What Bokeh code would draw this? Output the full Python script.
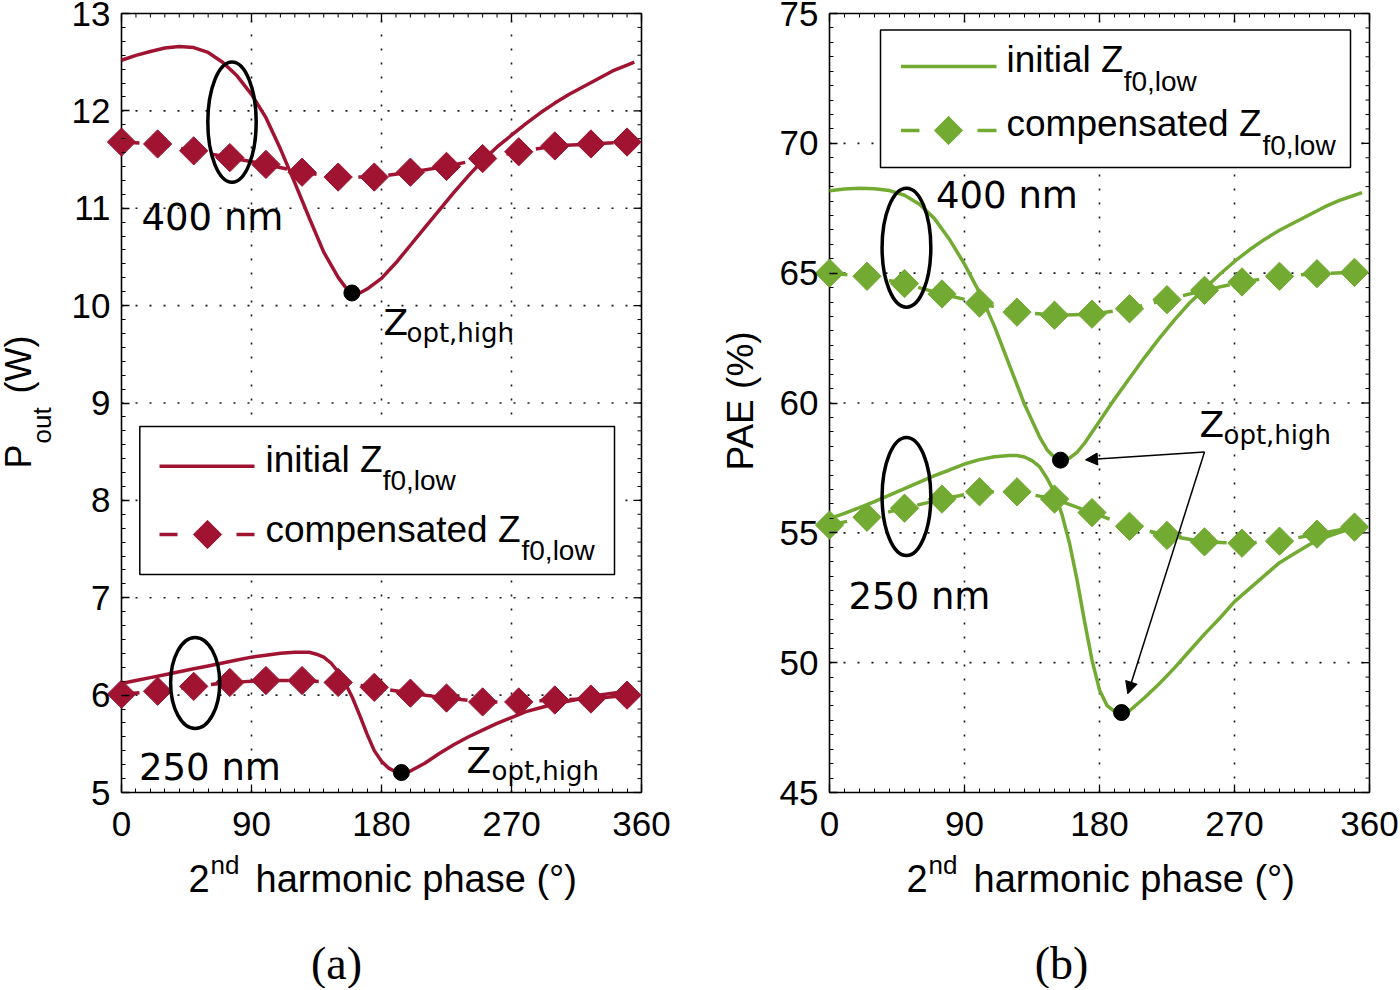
import math
from bokeh.plotting import figure
from bokeh.layouts import row
from bokeh.models import FixedTicker, LinearAxis, Label, Arrow, NormalHead, Range1d
from bokeh.embed import file_html
from bokeh.resources import INLINE

# ---------------- data ----------------
phase_comp = [0, 25, 50, 75, 100, 125, 150, 175, 200, 225, 250, 275, 300, 325, 350]

# (a) Pout (W), 400 nm
phase_a400 = [0, 10, 20, 30, 40, 50, 60, 70, 80, 90, 100, 110, 120, 130, 140, 150,
              155, 160, 165, 170, 180, 190, 200, 210, 220, 230, 240, 250, 260, 270,
              280, 290, 300, 310, 320, 330, 340, 350, 355]
pout_init_400 = [12.52, 12.57, 12.61, 12.645, 12.66, 12.65, 12.60, 12.50, 12.36, 12.17,
                 11.93, 11.61, 11.26, 10.90, 10.55, 10.29, 10.19, 10.13, 10.13, 10.17,
                 10.28, 10.44, 10.62, 10.80, 10.98, 11.16, 11.33, 11.49, 11.63, 11.75,
                 11.87, 11.98, 12.08, 12.17, 12.25, 12.33, 12.41, 12.47, 12.50]
pout_comp_400 = [11.68, 11.66, 11.59, 11.52, 11.45, 11.37, 11.32, 11.32, 11.37, 11.43,
                 11.51, 11.58, 11.64, 11.66, 11.68]

# (a) Pout (W), 250 nm
phase_a250 = [0, 10, 20, 30, 40, 50, 60, 70, 80, 90, 100, 110, 120, 130,
              135, 140, 145, 150, 155, 160, 165, 170, 175, 180, 185, 190, 195, 200,
              210, 220, 230, 240, 250, 260, 270, 280, 290, 300, 310, 320, 330, 340, 350, 355]
pout_init_250 = [6.12, 6.15, 6.18, 6.21, 6.24, 6.27, 6.30, 6.33, 6.36, 6.39, 6.41, 6.43, 6.44, 6.44,
                 6.42, 6.39, 6.33, 6.24, 6.12, 5.97, 5.79, 5.60, 5.43, 5.32, 5.25, 5.21, 5.20, 5.22,
                 5.30, 5.40, 5.49, 5.57, 5.64, 5.71, 5.77, 5.83, 5.87, 5.91, 5.94, 5.97, 6.00, 6.02,
                 6.04, 6.05]
pout_comp_250 = [6.01, 6.04, 6.09, 6.13, 6.15, 6.15, 6.13, 6.08, 6.02, 5.97, 5.93, 5.93,
                 5.95, 5.96, 6.00]

# (b) PAE (%), 400 nm
phase_b400 = [0, 10, 20, 30, 40, 50, 60, 70, 80, 90, 100, 110, 120, 130, 140,
              145, 150, 155, 160, 165, 170,
              180, 190, 200, 210, 220, 230, 240, 250, 260, 270, 280, 290, 300, 310,
              320, 330, 340, 350, 355]
pae_init_400 = [68.17, 68.24, 68.27, 68.25, 68.18, 68.0, 67.65, 67.1, 66.3, 65.35, 64.25,
                62.95, 61.45, 59.95, 58.7,
                58.2, 57.9, 57.8, 57.88, 58.1, 58.45,
                59.3, 60.15, 60.95, 61.75, 62.5, 63.2, 63.85, 64.4, 64.95, 65.45, 65.9,
                66.3, 66.65, 66.95, 67.25, 67.55, 67.8, 68.0, 68.1]
pae_comp_400 = [65.0, 64.88, 64.6, 64.2, 63.85, 63.5, 63.38, 63.42, 63.63, 63.98, 64.34,
                64.66, 64.88, 64.98, 65.03]

# (b) PAE (%), 250 nm
phase_b250 = [0, 10, 20, 30, 40, 50, 60, 70, 80, 90, 100, 110, 120,
              125, 130, 135, 140, 145, 150, 155, 160, 165, 170, 175, 180, 185, 190, 195,
              200, 205, 210,
              220, 230, 240, 250, 260, 270, 280, 290, 300, 310, 320, 330, 340, 350, 355]
pae_init_250 = [55.55, 55.75, 55.97, 56.2, 56.45, 56.7, 56.95, 57.2, 57.42, 57.65, 57.82,
                57.93, 57.98,
                57.98, 57.92, 57.78, 57.55, 57.1, 56.55, 55.7, 54.6, 53.2, 51.6, 50.1, 48.95,
                48.35, 48.12, 48.07, 48.15, 48.4, 48.65,
                49.2, 49.8, 50.45, 51.1, 51.7, 52.35, 52.85, 53.35, 53.85, 54.2, 54.55,
                54.82, 55.02, 55.2, 55.3]
pae_comp_250 = [55.3, 55.6, 55.95, 56.3, 56.58, 56.58, 56.3, 55.78, 55.25, 54.9, 54.65,
                54.6, 54.68, 54.95, 55.22]

# Z_opt,high points (minima)
zopt_a_phase = [159.5, 193.8]
zopt_a_pout = [10.13, 5.205]
zopt_b_phase = [154.0, 194.7]
zopt_b_pae = [57.8, 48.08]

# group ellipses (centre, width, height in data units)
ell_a_x = [76.5, 51.0]
ell_a_y = [11.885, 6.125]
ell_a_w = [33.5, 34.0]
ell_a_h = [1.235, 0.935]
ell_b_x = [51.3, 51.3]
ell_b_y = [65.98, 56.4]
ell_b_w = [32.5, 32.5]
ell_b_h = [4.58, 4.55]

x_ticks = [0, 90, 180, 270, 360]
pout_ticks = [5, 6, 7, 8, 9, 10, 11, 12, 13]
pae_ticks = [45, 50, 55, 60, 65, 70, 75]

# ---------------- layout constants (page pixels) ----------------
RED = "#A01432"
GREEN = "#72AA32"
ORG = -8                      # page position of the canvas top-left (root shifted by margins)
H = 996
W1, W2 = 708, 700
FR_TOP, FR_BOT = 13, 792
A_L, A_R = 121, 641
B_L, B_R = 829, 1369
P1_LEFT = ORG
P2_LEFT = ORG + W1
BASE_SHIFT = 0.35             # label anchor sits ~0.35 em above the glyph baseline

x_minor = [10 * k for k in range(37)]
pout_minor = [5 + k / 7.0 for k in range(57)]
pae_minor = [45 + k * 5 / 9.0 for k in range(55)]


class Panel:
    def __init__(self, fl, fr, y0, y1, canvas_left, width):
        self.fl, self.fr, self.y0, self.y1 = fl, fr, y0, y1
        self.sx = 360.0 / (fr - fl)               # data per px
        self.sy = (y1 - y0) / float(FR_BOT - FR_TOP)
        self.xr = (self.x(canvas_left), self.x(canvas_left + width))
        self.yr = (self.y(ORG + H), self.y(ORG))

    def x(self, px):
        return (px - self.fl) * self.sx

    def y(self, py):
        return self.y1 - (py - FR_TOP) * self.sy


PA = Panel(A_L, A_R, 5, 13, P1_LEFT, W1)
PB = Panel(B_L, B_R, 45, 75, P2_LEFT, W2)


def style_axis(ax, standoff):
    ax.axis_line_color = None
    ax.major_tick_in = 8
    ax.major_tick_out = 0
    ax.minor_tick_in = 4
    ax.minor_tick_out = 0
    ax.major_tick_line_color = "black"
    ax.major_tick_line_width = 1.3
    ax.minor_tick_line_color = "black"
    ax.minor_tick_line_width = 1.0
    ax.major_label_text_font = "Liberation Sans"
    ax.major_label_text_font_size = "35px"
    ax.major_label_text_color = "black"
    ax.major_label_standoff = standoff


def make_fig(P, width, yticks, yminor):
    p = figure(width=width, height=H, x_range=Range1d(*P.xr), y_range=Range1d(*P.yr),
               toolbar_location=None, output_backend="svg",
               x_axis_location=None, y_axis_location=None,
               min_border=0, min_border_left=0, min_border_right=0,
               min_border_top=0, min_border_bottom=0)
    p.background_fill_color = "white"
    p.border_fill_color = "white"
    p.outline_line_color = None
    for g in p.grid:
        g.visible = False
    xa = LinearAxis(ticker=FixedTicker(ticks=x_ticks, minor_ticks=x_minor),
                    fixed_location=P.y0, bounds=(0, 360))
    style_axis(xa, 19)
    p.add_layout(xa, "below")
    ya = LinearAxis(ticker=FixedTicker(ticks=yticks, minor_ticks=yminor),
                    fixed_location=0, bounds=(P.y0, P.y1))
    style_axis(ya, 11)
    p.add_layout(ya, "left")
    # dotted grid inside the box
    gx = x_ticks[1:-1]
    p.segment(x0=gx, y0=[P.y0] * len(gx), x1=gx, y1=[P.y1] * len(gx),
              line_color="black", line_width=1.6, line_dash="2 12", line_alpha=0.9)
    gy = yticks[1:-1]
    p.segment(x0=[0] * len(gy), y0=gy, x1=[360] * len(gy), y1=gy,
              line_color="black", line_width=1.6, line_dash="2 12", line_alpha=0.9)
    # ticks on the top and right edges of the box
    mx = [t for t in x_minor if t not in x_ticks]
    p.segment(x0=x_ticks, y0=[P.y1] * len(x_ticks), x1=x_ticks,
              y1=[P.y1 - 8 * P.sy] * len(x_ticks), line_color="black", line_width=1.3)
    p.segment(x0=mx, y0=[P.y1] * len(mx), x1=mx, y1=[P.y1 - 4 * P.sy] * len(mx),
              line_color="black", line_width=1.0)
    my = [t for t in yminor if all(abs(t - m) > 1e-6 for m in yticks)]
    p.segment(x0=[360] * len(yticks), y0=yticks, x1=[360 - 8 * P.sx] * len(yticks),
              y1=yticks, line_color="black", line_width=1.3)
    p.segment(x0=[360] * len(my), y0=my, x1=[360 - 4 * P.sx] * len(my), y1=my,
              line_color="black", line_width=1.0)
    # box
    p.segment(x0=[0, 0, 0, 360], y0=[P.y0, P.y1, P.y0, P.y0], x1=[360, 360, 0, 360],
              y1=[P.y0, P.y1, P.y1, P.y1], line_color="black", line_width=1.6)
    return p


def text(p, P, px, py, s, size, font="Liberation Sans", angle=0.0, align="left"):
    """px, py: page position of the glyph baseline start (or centre for align='center')."""
    if angle == 0.0:
        py = py - BASE_SHIFT * size
    else:
        px = px - BASE_SHIFT * size
    p.add_layout(Label(x=P.x(px), y=P.y(py), text=s, text_font=font,
                       text_font_size=f"{size}px", angle=angle, text_align=align,
                       text_baseline="alphabetic", text_color="black"))


EM_INITIAL_Z = 3.167      # Arial advance widths, em
EM_COMP_Z = 6.892


def legend(p, P, color, box, y1, y2, lx, dash_l, dash_r, dmx, tx, base1, base2, sub_dy):
    l, r, t, b = box
    p.quad(left=[P.x(l)], right=[P.x(r)], top=[P.y(t)], bottom=[P.y(b)],
           fill_color="white", line_color="black", line_width=1.5)
    p.segment(x0=[P.x(lx[0])], y0=[P.y(y1)], x1=[P.x(lx[1])], y1=[P.y(y1)],
              line_color=color, line_width=3.5)
    p.segment(x0=[P.x(dash_l[0]), P.x(dash_r[0])], y0=[P.y(y2)] * 2,
              x1=[P.x(dash_l[1]), P.x(dash_r[1])], y1=[P.y(y2)] * 2,
              line_color=color, line_width=3.5)
    p.scatter([P.x(dmx)], [P.y(y2)], marker="square", angle=math.pi / 4, size=20,
              fill_color=color, line_color=color)
    fs = 37
    text(p, P, tx, base1, "initial Z", fs)
    text(p, P, tx + EM_INITIAL_Z * fs, base1 + sub_dy, "f0,low", 28)
    text(p, P, tx, base2, "compensated Z", fs)
    text(p, P, tx + EM_COMP_Z * fs + 1, base2 + sub_dy, "f0,low", 28)


def series(p, color, px_init, y_init, y_comp):
    p.line(px_init, y_init, line_color=color, line_width=3.5)
    p.line(phase_comp, y_comp, line_color=color, line_width=3.5, line_dash="18 12")
    p.scatter(phase_comp, y_comp, marker="square", angle=math.pi / 4, size=20,
              fill_color=color, line_color=color)


# ---------------- panel (a) ----------------
p1 = make_fig(PA, W1, pout_ticks, pout_minor)
series(p1, RED, phase_a400, pout_init_400, pout_comp_400)
series(p1, RED, phase_a250, pout_init_250, pout_comp_250)
p1.ellipse(x=ell_a_x, y=ell_a_y, width=ell_a_w, height=ell_a_h, fill_color=None,
           line_color="black", line_width=3.5)
p1.scatter(zopt_a_phase, zopt_a_pout, marker="circle", size=16, color="black")
legend(p1, PA, RED, (139.3, 614, 426, 574), 465.7, 534, (159, 254), (159, 177), (236, 254), 207,
       265, 471.5, 541.5, 18)
text(p1, PA, 141, 230, "400 nm", 37, "DejaVu Sans")
text(p1, PA, 138.5, 780, "250 nm", 37, "DejaVu Sans")
text(p1, PA, 383, 335, "Z", 36, "DejaVu Sans")
text(p1, PA, 406, 342, "opt,high", 26, "DejaVu Sans")
text(p1, PA, 466, 773, "Z", 36, "DejaVu Sans")
text(p1, PA, 491, 779.5, "opt,high", 26, "DejaVu Sans")
text(p1, PA, 31, 468, "P", 36, angle=math.pi / 2)
text(p1, PA, 50.7, 443, "out", 26, angle=math.pi / 2)
text(p1, PA, 31, 393, "(W)", 36, angle=math.pi / 2)
text(p1, PA, 188, 891.7, "2", 38)
text(p1, PA, 210, 873.3, "nd", 26)
text(p1, PA, 255, 891.7, "harmonic phase (°)", 38)
text(p1, PA, 336, 979, "(a)", 46, "Liberation Serif", align="center")

# ---------------- panel (b) ----------------
p2 = make_fig(PB, W2, pae_ticks, pae_minor)
series(p2, GREEN, phase_b400, pae_init_400, pae_comp_400)
series(p2, GREEN, phase_b250, pae_init_250, pae_comp_250)
p2.ellipse(x=ell_b_x, y=ell_b_y, width=ell_b_w, height=ell_b_h, fill_color=None,
           line_color="black", line_width=3.5)
p2.scatter(zopt_b_phase, zopt_b_pae, marker="circle", size=16, color="black")
legend(p2, PB, GREEN, (880, 1350, 29.5, 167), 66, 130, (900.5, 996), (900.5, 919), (977, 996), 948,
       1006, 72, 136, 19)
text(p2, PB, 935.5, 208.3, "400 nm", 37, "DejaVu Sans")
text(p2, PB, 848, 609, "250 nm", 37, "DejaVu Sans")
text(p2, PB, 1199, 436.7, "Z", 36, "DejaVu Sans")
text(p2, PB, 1223, 443.5, "opt,high", 26, "DejaVu Sans")
for ex, ey in ((1085, 459.3), (1127.3, 693.3)):
    p2.add_layout(Arrow(end=NormalHead(size=12, fill_color="black", line_color="black"),
                        x_start=PB.x(1204), y_start=PB.y(451.5), x_end=PB.x(ex), y_end=PB.y(ey),
                        line_color="black", line_width=1.5))
text(p2, PB, 753.3, 470, "PAE (%)", 37, angle=math.pi / 2)
text(p2, PB, 906, 891.7, "2", 38)
text(p2, PB, 928, 873.3, "nd", 26)
text(p2, PB, 973, 891.7, "harmonic phase (°)", 38)
text(p2, PB, 1061, 979, "(b)", 46, "Liberation Serif", align="center")

layout = row(p1, p2)
layout.styles = {"margin-top": "-8px", "margin-left": "-8px",
                 "margin-bottom": "-8px", "margin-right": "-8px"}

open("out.html", "w").write(file_html(layout, INLINE))
